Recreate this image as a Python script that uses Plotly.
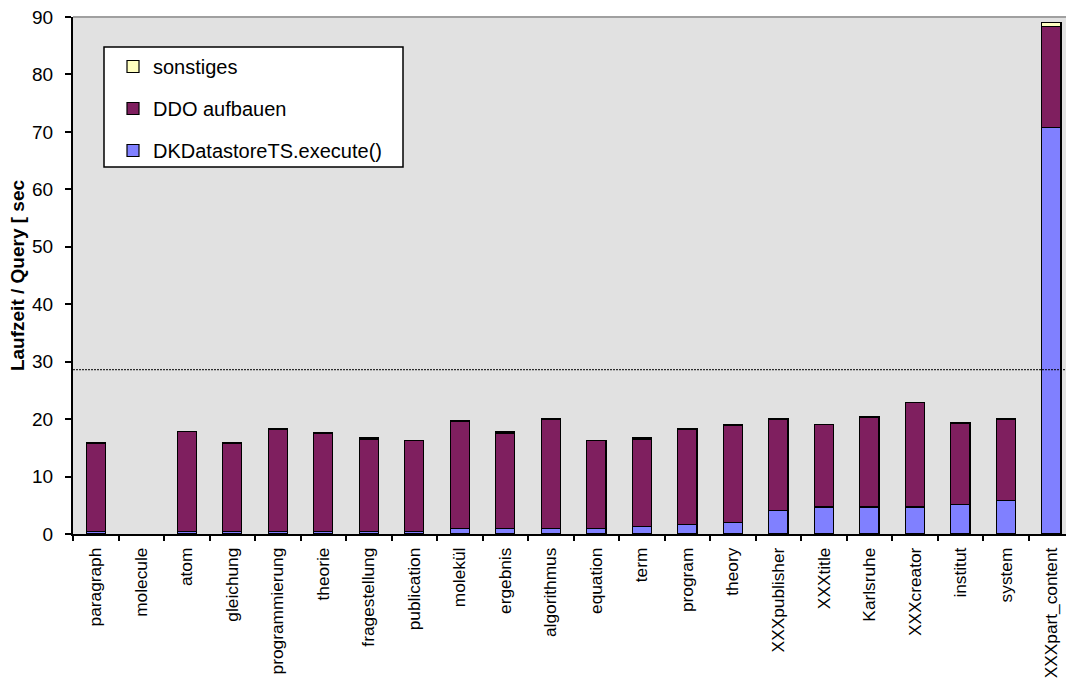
import plotly.graph_objects as go

categories = ["paragraph", "molecule", "atom", "gleichung", "programmierung", "theorie",
              "fragestellung", "publication", "molekül", "ergebnis", "algorithmus", "equation",
              "term", "program", "theory", "XXXpublisher", "XXXtitle", "Karlsruhe",
              "XXXcreator", "institut", "system", "XXXpart_content"]
# molecule has no measured value (no bar drawn)
dk_execute = [0.5, None, 0.5, 0.5, 0.5, 0.5, 0.5, 0.5, 0.9, 0.9, 0.9, 0.9,
              1.3, 1.7, 2.0, 4.1, 4.7, 4.7, 4.7, 5.1, 5.8, 70.8]
ddo_aufbauen = [15.2, None, 17.3, 15.2, 17.7, 17.0, 16.0, 15.8, 18.7, 16.7, 19.0, 15.4,
                15.2, 16.5, 16.9, 15.8, 14.4, 15.6, 18.2, 14.1, 14.1, 17.5]
sonstiges = [0.2, None, 0.05, 0.2, 0.2, 0.2, 0.2, 0.03, 0.2, 0.2, 0.2, 0.03,
             0.2, 0.2, 0.2, 0.2, 0.03, 0.2, 0.03, 0.2, 0.2, 0.7]
reference_line = 28.6
y_ticks = [0, 10, 20, 30, 40, 50, 60, 70, 80, 90]

FONT = "Liberation Sans, Arial, sans-serif"
bar_w = 0.42
outline = dict(color="black", width=1.2)

fig = go.Figure()
fig.add_bar(x=categories, y=dk_execute, name="DKDatastoreTS.execute()",
            marker=dict(color="#8080FF", line=outline), width=bar_w,
            legendgroup="g1", legendrank=3)
fig.add_bar(x=categories, y=ddo_aufbauen, name="DDO aufbauen",
            marker=dict(color="#7F1F5F", line=outline), width=bar_w,
            legendgroup="g2", legendrank=2)
fig.add_bar(x=categories, y=sonstiges, name="sonstiges",
            marker=dict(color="#FFFFC0", line=outline), width=bar_w,
            legendgroup="g3", legendrank=1)

fig.add_hline(y=reference_line, line=dict(color="black", width=1, dash="2px,1px"))

# plot-area frame: gray top line
fig.add_shape(type="line", xref="paper", yref="paper", x0=0, x1=1, y0=1, y1=1,
              line=dict(color="#A0A0A0", width=2))
# legend box
fig.add_shape(type="rect", xref="paper", yref="paper",
              x0=(104 - 73) / 993, x1=(403 - 73) / 993,
              y0=(534 - 167) / 517, y1=(534 - 47) / 517,
              fillcolor="white", line=dict(color="black", width=1.5), layer="above")

fig.update_layout(
    width=1066, height=680,
    margin=dict(l=73, r=0, t=17, b=146),
    barmode="stack",
    plot_bgcolor="#E1E1E1",
    paper_bgcolor="white",
    font=dict(family=FONT, color="black", size=17),
    showlegend=True,
    legend=dict(
        x=(113 - 73) / 993, y=(534 - 47) / 517, xanchor="left", yanchor="top",
        bgcolor="rgba(0,0,0,0)", borderwidth=0,
        font=dict(family=FONT, size=20, color="black"),
        traceorder="grouped", tracegroupgap=13,
    ),
    xaxis=dict(
        type="category", range=[-0.5, 21.32], automargin=False,
        showline=True, linecolor="black", linewidth=1.5,
        ticks="outside", ticklen=5, tickcolor="black", tickwidth=1.5,
        tickson="boundaries", tickangle=-90,
        ticklabelstandoff=5,
        tickfont=dict(family=FONT, size=17.3, color="black"),
        showgrid=False, zeroline=False,
    ),
    yaxis=dict(
        range=[0, 90], tickvals=y_ticks, automargin=False,
        showline=True, linecolor="black", linewidth=2,
        ticks="outside", ticklen=6, tickcolor="black", tickwidth=1.5,
        ticklabelstandoff=8,
        tickfont=dict(family=FONT, size=19, color="black"),
        showgrid=False, zeroline=False,
        title=dict(text="<b>Laufzeit / Query [ sec</b>", standoff=2,
                   font=dict(family=FONT, size=19, color="black")),
    ),
)

fig.write_html("out.html")
